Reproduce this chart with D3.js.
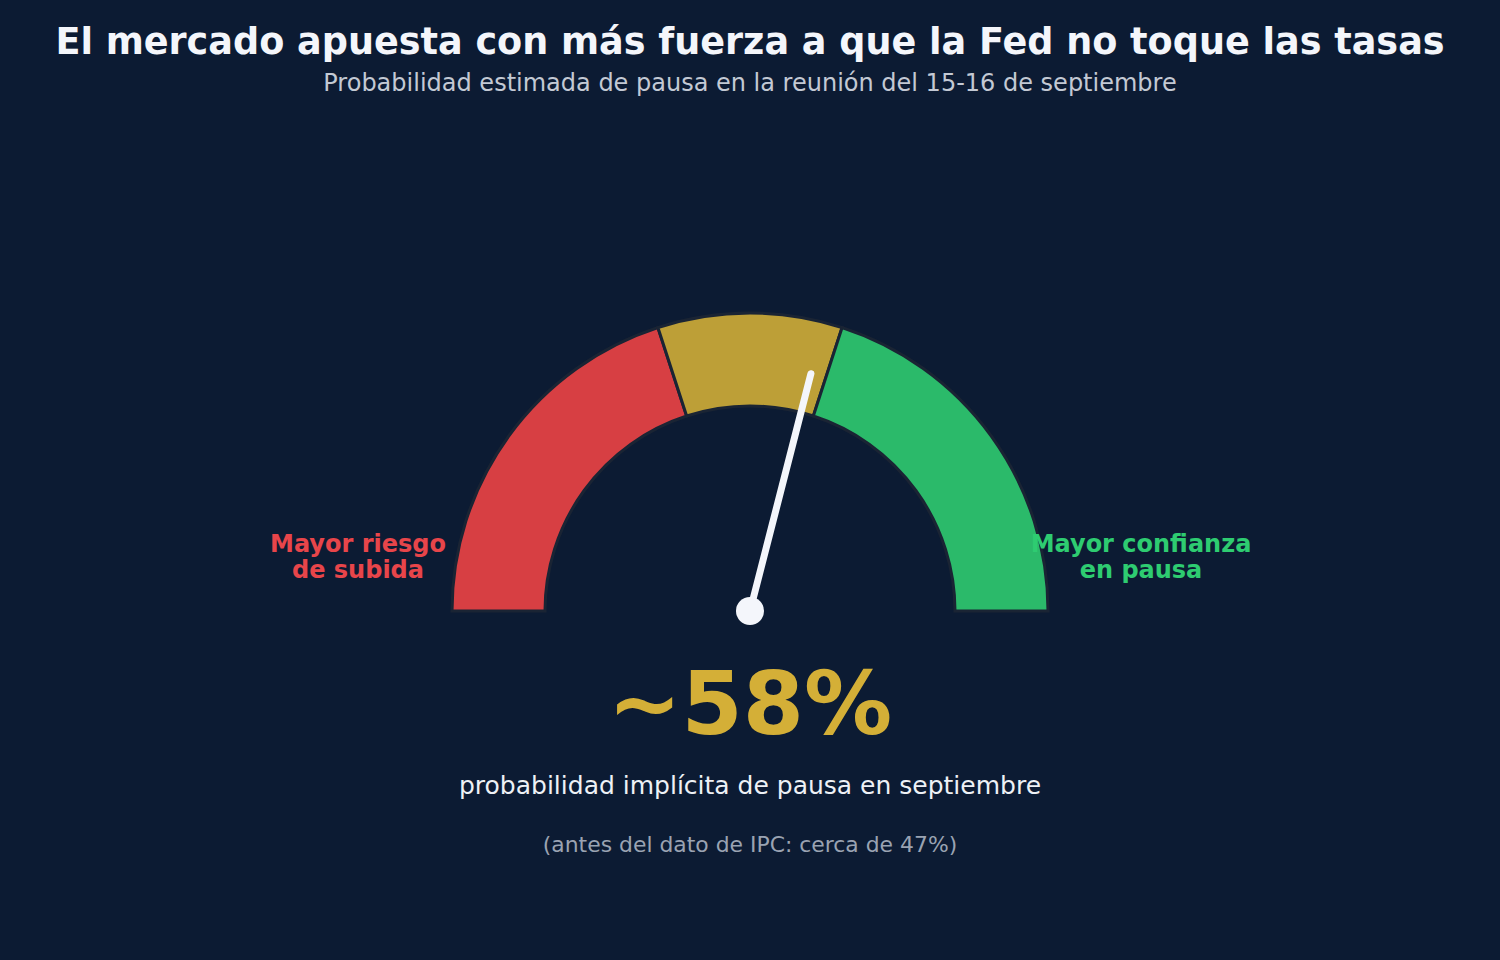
<!DOCTYPE html>
<html>

<head>
    <meta charset=utf-8 />
    <script src="https://cdn.jsdelivr.net/npm/d3@7"></script>
    <title>gauge</title>
    <style>
        html,
        body {
            margin: 0;
            padding: 0;
            background: #0c1b33;
        }

        svg {
            display: block;
            font-family: "DejaVu Sans", sans-serif;
        }
    </style>
</head>

<body>
    <svg width="1500" height="960"></svg>
    <script>
        // gauge data
        var bandNames = ['riesgo', 'neutral', 'pausa'];
        var bandStarts = [0, 40, 60];
        var bandEnds = [40, 60, 100];
        var bandColors = ['#d73f43', '#bd9f37', '#2bba6a'];
        var pauseValue = 58;
        var previousValue = 47;

        var width = 1500,
            height = 960;
        var cx = 750,
            cy = 611;
        var outerR = 298,
            innerR = 205;

        var svg = d3.select('svg');

        svg.append('rect')
            .attr('width', width)
            .attr('height', height)
            .attr('fill', '#0c1b33');

        // 0..100 -> -90deg..90deg
        var angle = d3.scaleLinear()
            .domain([0, 100])
            .range([-Math.PI / 2, Math.PI / 2]);

        var arc = d3.arc()
            .innerRadius(innerR)
            .outerRadius(outerR);

        var g = svg.append('g')
            .attr('transform', 'translate(' + cx + ',' + cy + ')');

        g.selectAll('path.band')
            .data(bandNames)
            .enter().append('path')
            .attr('class', 'band')
            .attr('d', function (d, i) {
                return arc({ startAngle: angle(bandStarts[i]), endAngle: angle(bandEnds[i]) });
            })
            .attr('fill', function (d, i) {
                return bandColors[i];
            })
            .attr('stroke', '#1a2434')
            .attr('stroke-width', 3);

        // needle
        var needleLen = 245;
        var a = angle(pauseValue);
        g.append('line')
            .attr('x1', 0)
            .attr('y1', 0)
            .attr('x2', needleLen * Math.sin(a))
            .attr('y2', -needleLen * Math.cos(a))
            .attr('stroke', '#f4f6fb')
            .attr('stroke-width', 7)
            .attr('stroke-linecap', 'round');

        g.append('circle')
            .attr('r', 14)
            .attr('fill', '#f4f6fb');

        // side labels
        function twoLines(x, lines, color) {
            var t = svg.append('text')
                .attr('x', x)
                .attr('y', 552)
                .attr('text-anchor', 'middle')
                .attr('font-size', 24)
                .attr('font-weight', 'bold')
                .attr('fill', color);
            lines.forEach(function (l, i) {
                t.append('tspan')
                    .attr('x', x)
                    .attr('dy', i === 0 ? 0 : 26)
                    .text(l);
            });
        }
        twoLines(358, ['Mayor riesgo', 'de subida'], '#e8454a');
        twoLines(1141, ['Mayor confianza', 'en pausa'], '#2ecc71');

        // titles
        svg.append('text')
            .attr('x', cx)
            .attr('y', 54)
            .attr('text-anchor', 'middle')
            .attr('font-size', 36.6)
            .attr('font-weight', 'bold')
            .attr('fill', '#f4f6fb')
            .text('El mercado apuesta con más fuerza a que la Fed no toque las tasas');

        svg.append('text')
            .attr('x', cx)
            .attr('y', 91)
            .attr('text-anchor', 'middle')
            .attr('font-size', 24)
            .attr('fill', '#c3c9d4')
            .text('Probabilidad estimada de pausa en la reunión del 15-16 de septiembre');

        // big value
        svg.append('text')
            .attr('x', cx)
            .attr('y', 734)
            .attr('text-anchor', 'middle')
            .attr('font-size', 88)
            .attr('font-weight', 'bold')
            .attr('fill', '#d4af37')
            .text('~' + pauseValue + '%');

        svg.append('text')
            .attr('x', cx)
            .attr('y', 794)
            .attr('text-anchor', 'middle')
            .attr('font-size', 25)
            .attr('fill', '#eef1f6')
            .text('probabilidad implícita de pausa en septiembre');

        svg.append('text')
            .attr('x', cx)
            .attr('y', 852)
            .attr('text-anchor', 'middle')
            .attr('font-size', 21.9)
            .attr('fill', '#9aa3b2')
            .text('(antes del dato de IPC: cerca de ' + previousValue + '%)');
    </script>
</body>

</html>
